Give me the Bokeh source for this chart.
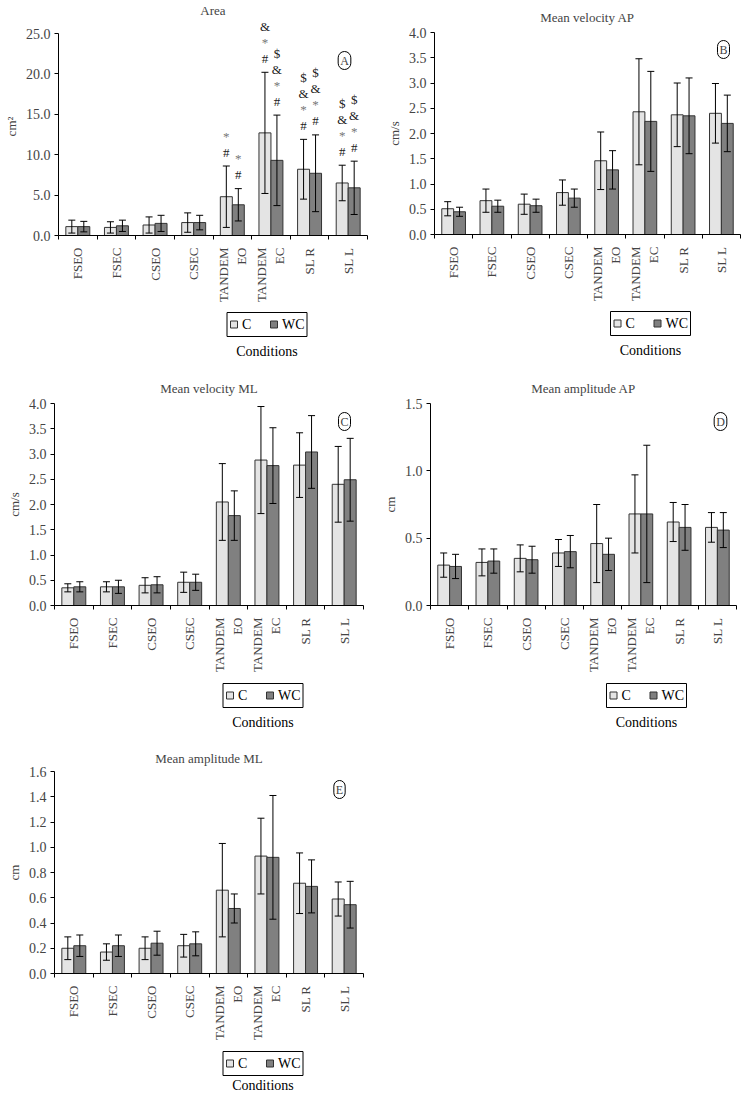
import math
from bokeh.plotting import figure
from bokeh.models import (Range1d, FixedTicker, LinearAxis, Whisker, TeeHead, ColumnDataSource,
                          Label, LabelSet, NumeralTickFormatter)
from bokeh.core.properties import value
from bokeh.layouts import column, row
from bokeh.embed import file_html
from bokeh.resources import INLINE

FONT = "Liberation Serif"

categories = ["FSEO", "FSEC", "CSEO", "CSEC", "TANDEM\nEO", "TANDEM\nEC", "SL R", "SL L"]
groups = ["C", "WC"]
x_title = "Conditions"

# Panel A - Area (cm2)
area_c = [1.1, 1.0, 1.3, 1.6, 4.8, 12.7, 8.2, 6.5]
area_c_sd = [0.8, 0.7, 1.0, 1.2, 3.8, 7.5, 3.7, 2.2]
area_wc = [1.1, 1.2, 1.5, 1.6, 3.8, 9.3, 7.7, 5.9]
area_wc_sd = [0.65, 0.7, 1.0, 0.9, 2.0, 5.6, 4.75, 3.3]
area_sig_c = ["", "", "", "", "#*", "#*&", "#*&$", "#*&$"]
area_sig_wc = ["", "", "", "", "#*", "#*&$", "#*&$", "#*&$"]

# Panel B - Mean velocity AP (cm/s)
vap_c = [0.51, 0.67, 0.60, 0.83, 1.46, 2.43, 2.37, 2.40]
vap_c_sd = [0.14, 0.23, 0.20, 0.25, 0.57, 1.05, 0.63, 0.59]
vap_wc = [0.45, 0.56, 0.57, 0.72, 1.28, 2.24, 2.35, 2.20]
vap_wc_sd = [0.09, 0.12, 0.13, 0.18, 0.38, 0.99, 0.75, 0.56]

# Panel C - Mean velocity ML (cm/s)
vml_c = [0.35, 0.37, 0.40, 0.46, 2.05, 2.88, 2.78, 2.40]
vml_c_sd = [0.08, 0.10, 0.15, 0.20, 0.76, 1.06, 0.64, 0.75]
vml_wc = [0.37, 0.37, 0.41, 0.46, 1.78, 2.77, 3.04, 2.49]
vml_wc_sd = [0.10, 0.13, 0.16, 0.16, 0.49, 0.75, 0.72, 0.82]

# Panel D - Mean amplitude AP (cm)
aap_c = [0.30, 0.32, 0.35, 0.39, 0.46, 0.68, 0.62, 0.58]
aap_c_sd = [0.09, 0.10, 0.10, 0.10, 0.29, 0.29, 0.145, 0.11]
aap_wc = [0.29, 0.33, 0.34, 0.40, 0.38, 0.68, 0.58, 0.56]
aap_wc_sd = [0.09, 0.09, 0.10, 0.12, 0.12, 0.51, 0.17, 0.13]

# Panel E - Mean amplitude ML (cm)
aml_c = [0.20, 0.17, 0.20, 0.22, 0.66, 0.93, 0.715, 0.59]
aml_c_sd = [0.09, 0.065, 0.09, 0.09, 0.37, 0.30, 0.24, 0.135]
aml_wc = [0.22, 0.22, 0.24, 0.235, 0.515, 0.92, 0.69, 0.545]
aml_wc_sd = [0.085, 0.085, 0.095, 0.095, 0.115, 0.49, 0.21, 0.185]

C_FILL = "#e4e4e4"
WC_FILL = "#808080"
EDGE = "#333333"
MAIN_BOTTOM = 70
FRAME_H = 202


def make_panel(title, ylabel, letter, c, c_sd, wc, wc_sd, yticks, ymax,
               left, fw, right, top, foot_h, foot_leg_y, foot_title_y, letter_xy,
               sig_c=None, sig_wc=None, extra_top=0):
    idx = list(range(len(categories)))
    xc = [i - 0.155 for i in idx]
    xw = [i + 0.155 for i in idx]
    fh = FRAME_H + extra_top
    yend = ymax * fh / float(FRAME_H)
    p = figure(x_range=Range1d(-0.5, len(categories) - 0.5), y_range=Range1d(0, yend),
               frame_width=fw, frame_height=fh, min_border_left=left, min_border_right=right,
               min_border_top=top - extra_top, min_border_bottom=MAIN_BOTTOM,
               x_axis_location=None, y_axis_location=None, toolbar_location=None,
               tools="", output_backend="svg")
    p.outline_line_color = None
    p.xgrid.grid_line_color = None
    p.ygrid.grid_line_color = None
    p.title.text = title
    p.title.align = "center"
    p.title.text_font = FONT
    p.title.text_font_style = "normal"
    p.title.text_font_size = "13px"
    p.title.standoff = max(0, top - 16 - extra_top)

    src_c = ColumnDataSource(dict(x=xc, top=c, up=[m + s for m, s in zip(c, c_sd)],
                                  lo=[m - s for m, s in zip(c, c_sd)]))
    src_w = ColumnDataSource(dict(x=xw, top=wc, up=[m + s for m, s in zip(wc, wc_sd)],
                                  lo=[m - s for m, s in zip(wc, wc_sd)]))
    p.vbar(x="x", top="top", width=0.31, source=src_c, fill_color=C_FILL, line_color=EDGE)
    p.vbar(x="x", top="top", width=0.31, source=src_w, fill_color=WC_FILL, line_color=EDGE)
    for s in (src_c, src_w):
        w = Whisker(base="x", upper="up", lower="lo", source=s, line_color="black", line_width=1,
                    upper_head=TeeHead(size=7, line_color="black", line_width=1),
                    lower_head=TeeHead(size=7, line_color="black", line_width=1),
                    level="overlay")
        p.add_layout(w)

    if sig_c is not None:
        sx, sy, st, so, sc = [], [], [], [], []
        for xs, ups, sigs in ((xc, src_c.data["up"], sig_c), (xw, src_w.data["up"], sig_wc)):
            for xv, u, sg in zip(xs, ups, sigs):
                for k, ch in enumerate(sg):
                    sx.append(xv)
                    sy.append(u)
                    st.append(ch)
                    so.append(14 + 16 * k)
                    sc.append("#777777" if ch == "*" else "#1a1a1a")
        ls = LabelSet(x="x", y="y", text="t", y_offset="o",
                      source=ColumnDataSource(dict(x=sx, y=sy, t=st, o=so, col=sc)),
                      text_align="center", text_baseline="middle", text_font=FONT,
                      text_font_size="13px", text_color="col", level="overlay")
        p.add_layout(ls)

    yaxis = LinearAxis(ticker=FixedTicker(ticks=yticks), formatter=NumeralTickFormatter(format="0.0"),
                       bounds=(0, ymax),
                       axis_label=ylabel, axis_label_text_font=FONT, axis_label_text_font_style="normal",
                       axis_label_text_font_size="13px", axis_label_standoff=4,
                       major_label_text_font=FONT, major_label_text_font_size="14px",
                       major_tick_in=0, major_tick_out=4, minor_tick_line_color=None,
                       major_label_standoff=4, axis_line_color="black", major_tick_line_color="black")
    p.add_layout(yaxis, "left")

    xaxis = LinearAxis(ticker=FixedTicker(ticks=idx,
                                          minor_ticks=[i - 0.5 for i in range(len(categories) + 1)]),
                       major_label_overrides={i: cat for i, cat in zip(idx, categories)},
                       major_label_orientation=math.pi / 2,
                       major_label_text_font=FONT, major_label_text_font_size="13px",
                       major_label_standoff=8, major_tick_in=0, major_tick_out=0,
                       major_tick_line_color=None,
                       minor_tick_in=0, minor_tick_out=4, minor_tick_line_color="black",
                       axis_line_color="black")
    p.add_layout(xaxis, "below")

    p.add_layout(Label(text=letter, x=letter_xy[0], y=letter_xy[1], x_units="screen", y_units="screen",
                       text_align="center", text_baseline="middle", text_font=FONT,
                       text_font_size="12px", border_line_color="black", border_line_width=1,
                       border_radius=8, padding=2))

    # footer: legend box + x title (footer ranges are in pixels)
    tw = left + fw + right
    f = figure(frame_width=tw, frame_height=foot_h, min_border=0, x_range=Range1d(0, tw),
               y_range=Range1d(0, foot_h), x_axis_location=None, y_axis_location=None,
               toolbar_location=None, tools="", output_backend="svg")
    f.outline_line_color = None
    f.xgrid.grid_line_color = None
    f.ygrid.grid_line_color = None
    cx = left + fw / 2.0
    bl = cx - 40
    f.quad(left=[bl], right=[bl + 80], bottom=[foot_leg_y], top=[foot_leg_y + 24],
           fill_color=None, line_color="black", line_width=1)
    ym = foot_leg_y + 12
    f.rect(x=[bl + 7, bl + 47], y=[ym, ym], width=7, height=7, width_units="screen",
           height_units="screen", fill_color=[C_FILL, WC_FILL], line_color=EDGE)
    f.text(x=[bl + 15, bl + 55], y=[ym, ym], text=groups, text_align="left",
           text_baseline="middle", text_font=value(FONT), text_font_size="14px",
           text_color="black")
    f.text(x=[cx], y=[foot_title_y], text=[x_title], text_align="center",
           text_baseline="middle", text_font=value(FONT), text_font_size="14px",
           text_color="black")
    return column(p, f, spacing=0)


yt_area = [0, 5, 10, 15, 20, 25]
yt_vel = [0, 0.5, 1.0, 1.5, 2.0, 2.5, 3.0, 3.5, 4.0]
yt_aap = [0, 0.5, 1.0, 1.5]
yt_aml = [0, 0.2, 0.4, 0.6, 0.8, 1.0, 1.2, 1.4, 1.6]

pA = make_panel("Area", "cm²", "A", area_c, area_c_sd, area_wc, area_wc_sd, yt_area, 25,
                54, 309, 4, 31, 66, 35, 20, (286, 175), area_sig_c, area_sig_wc, extra_top=16)
pB = make_panel("Mean velocity AP", "cm/s", "B", vap_c, vap_c_sd, vap_wc, vap_wc_sd, yt_vel, 4,
                63, 306, 1, 31, 66, 35, 20, (289, 185))
pC = make_panel("Mean velocity ML", "cm/s", "C", vml_c, vml_c_sd, vml_wc, vml_wc_sd, yt_vel, 4,
                54, 309, 4, 31, 67, 35, 20, (290, 184))
pD = make_panel("Mean amplitude AP", "cm", "D", aap_c, aap_c_sd, aap_wc, aap_wc_sd, yt_aap, 1.5,
                63, 306, 1, 31, 67, 35, 20, (290, 184))
pE = make_panel("Mean amplitude ML", "cm", "E", aml_c, aml_c_sd, aml_wc, aml_wc_sd, yt_aml, 1.6,
                54, 309, 4, 28, 50, 18, 8, (285, 184))

layout = column(row(pA, pB, spacing=0), row(pC, pD, spacing=0), pE, spacing=0)
open("out.html", "w").write(file_html(layout, INLINE))
